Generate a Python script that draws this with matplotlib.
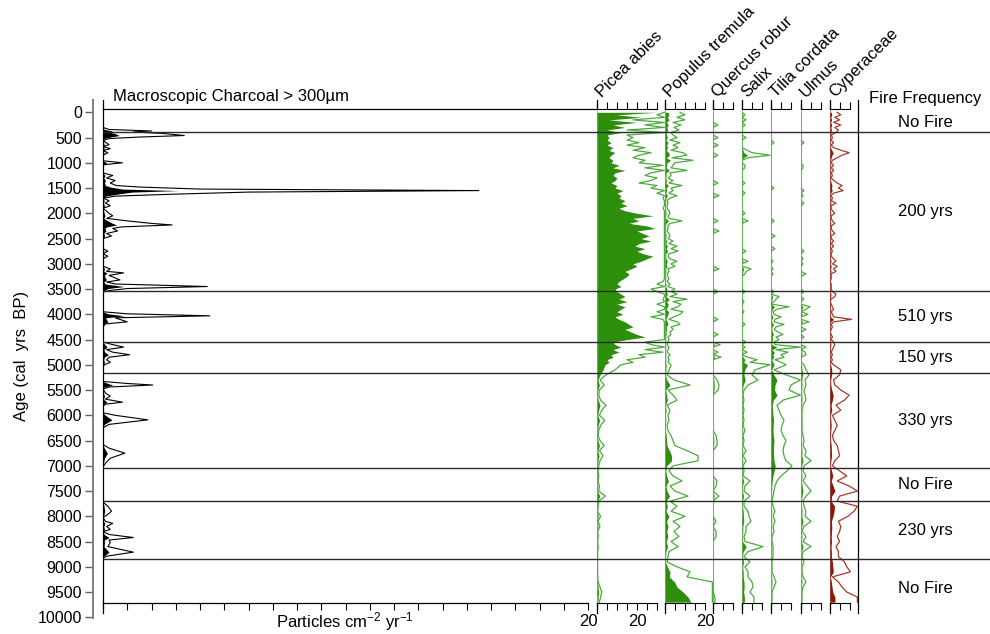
import matplotlib
matplotlib.use('Agg')
import matplotlib.pyplot as plt
import numpy as np

plt.rcParams['font.family'] = ['Liberation Sans', 'DejaVu Sans']
plt.rcParams['mathtext.fontset'] = 'custom'
plt.rcParams['mathtext.rm'] = 'Liberation Sans'
plt.rcParams['mathtext.it'] = 'Liberation Sans:italic'

# ---- data ---------------------------------------------------------------
# pollen sample ages (cal yrs BP)
sample_ages = [
    0, 50, 100, 150, 200, 250, 300, 350, 400, 450, 500, 550, 600, 650, 700, 750, 800, 850, 900, 950,
    1000, 1050, 1100, 1150, 1200, 1250, 1300, 1350, 1400, 1450, 1500, 1550, 1600, 1650, 1700, 1750, 1800, 1850, 1900, 1950,
    2000, 2050, 2100, 2150, 2200, 2250, 2300, 2350, 2400, 2450, 2500, 2550, 2600, 2650, 2700, 2750, 2800, 2850, 2900, 2950,
    3000, 3050, 3100, 3150, 3200, 3250, 3300, 3350, 3400, 3450, 3500, 3550, 3600, 3650, 3700, 3750, 3800, 3850, 3900, 3950,
    4000, 4050, 4100, 4150, 4200, 4250, 4300, 4350, 4400, 4450, 4500, 4550, 4600, 4650, 4700, 4750, 4800, 4850, 4900, 4950,
    5000, 5100, 5200, 5300, 5400, 5500, 5600, 5700, 5800, 5900,
    6000, 6100, 6200, 6300, 6400, 6500, 6600, 6700, 6800, 6900,
    7000, 7100, 7200, 7300, 7400, 7500, 7600, 7700, 7800, 7900,
    8000, 8100, 8200, 8300, 8400, 8500, 8600, 8700, 8800, 8900,
    9000, 9100, 9200, 9300, 9400, 9500, 9600, 9700]

# percentages
picea = [
    30, 10, 22, 6, 20, 8, 14, 5, 12, 5, 6, 5, 7, 5, 8, 6, 9, 7, 6, 8,
    7, 11, 8, 14, 9, 8, 10, 9, 7, 10, 9, 13, 10, 12, 11, 14, 12, 15, 11, 14,
    20, 28, 18, 21, 16, 25, 29, 20, 23, 26, 22, 27, 21, 19, 24, 20, 23, 28, 25, 22,
    18, 20, 17, 14, 16, 15, 13, 11, 10, 12, 9, 10, 12, 14, 11, 15, 10, 14, 12, 10,
    13, 9, 11, 14, 16, 18, 14, 17, 20, 24, 15, 8, 9, 12, 8, 11, 7, 8, 5, 6,
    4, 3, 1.5, 0.5, 1.2, 0.4, 0.3, 0.6, 1.5, 0.8,
    0.4, 1.3, 0.6, 0.3, 0.2, 0.5, 1.2, 0.4, 1.0, 0.5,
    0.3, 0.2, 0.3, 0.2, 0.4, 0.3, 1.4, 0.3, 0.2, 0.1,
    0.6, 0.2, 0.5, 0.1, 0.2, 0.1, 0.2, 0.1, 0.1, 0.1,
    0.1, 0.1, 0.1, 0.2, 0.5, 0.8, 0.6, 0.4]
populus = [
    1.5, 2.0, 1.2, 2.0, 0.8, 1.6, 0.9, 1.4, 0.6, 0.8, 1.2, 0.5, 1.5, 0.8, 1.3, 0.6, 1.8, 2.2, 0.7, 2.8,
    1.0, 0.8, 0.6, 2.2, 0.5, 0.6, 0.3, 0.8, 0.4, 1.7, 0.6, 0.8, 0.4, 1.2, 0.5, 0.2, 0.3, 0.2, 0.2, 0.4,
    0.5, 0.3, 0.4, 1.7, 0.5, 0.3, 0.3, 0.2, 0.4, 0.5, 0.3, 0.8, 0.4, 1.2, 0.6, 1.3, 0.4, 0.3, 0.5, 1.2,
    0.6, 1.0, 0.3, 0.4, 0.2, 0.3, 0.4, 0.2, 0.5, 0.3, 1.0, 0.6, 1.2, 0.5, 2.2, 0.8, 1.6, 1.3, 0.6, 1.8,
    1.5, 0.9, 0.4, 1.2, 1.5, 0.6, 0.8, 0.5, 0.6, 0.3, 0.4, 0.3, 0.2, 0.4, 0.3, 0.2, 0.5, 0.3, 0.4, 0.3,
    0.6, 0.4, 0.2, 0.9, 2.5, 0.3, 0.8, 1.2, 0.2, 0.5,
    0.3, 0.4, 0.2, 0.3, 0.6, 0.8, 1.0, 2.2, 3.3, 3.3,
    0.8, 0.4, 0.8, 1.7, 0.5, 1.0, 2.3, 0.5, 1.2, 0.6,
    2.0, 0.8, 1.5, 0.9, 1.4, 0.6, 1.3, 0.4, 0.3, 0.2,
    1.2, 2.5, 2.2, 4.8, 6.0, 9.0, 11.5, 13.0]
quercus = [
    0, 0, 0, 0, 0, 0.5, 0, 0, 0, 0, 0.5, 0, 0, 0.5, 0, 0, 0, 0.5, 0, 0,
    0, 0, 0, 0, 0, 0, 0, 0, 0.5, 0, 0, 0, 0, 0.6, 0, 0, 0, 0, 0, 0,
    0, 0, 0, 0.5, 0, 0, 0, 0.6, 0, 0, 0, 0, 0, 0, 0, 0, 0, 0, 0, 0,
    0, 0, 0.6, 0, 0, 0, 0, 0, 0, 0, 0, 0.5, 0, 0, 0, 0, 0, 0, 0, 0,
    0, 0, 0.5, 0, 0, 0, 0, 0, 0.5, 0, 0, 0, 0.7, 0, 0, 0.5, 0, 0.8, 0, 0,
    0, 0, 0, 0.4, 0.6, 0.5, 0, 0, 0, 0,
    0, 0, 0, 0, 0.3, 0.4, 0.4, 0, 0, 0,
    0, 0, 0, 0.4, 0.3, 0, 0.6, 0, 0, 0,
    0, 0.3, 0, 0.3, 0.3, 0, 0, 0, 0, 0,
    0, 0, 0, 0, 0, 0, 0.2, 0.2]
salix = [
    0, 0.3, 0, 0.4, 0, 0.3, 0, 0, 0, 0, 0.4, 0, 0, 0, 0, 0.5, 1.0, 2.8, 0.6, 0,
    0, 0.3, 0.3, 0, 0, 0, 0, 0, 0.3, 0, 0, 0, 0.3, 0, 0, 0, 0, 0, 0, 0,
    0.3, 0, 0, 0.6, 0, 0, 0, 0, 0, 0, 0, 0, 0, 0, 0, 0.4, 0, 0, 0, 0.6,
    0, 0, 0.9, 0.4, 0.3, 0, 0, 0, 0, 0, 0, 0.3, 0, 0, 0, 0.2, 0, 0, 0, 0.2,
    0, 0, 0, 0, 0.3, 0, 0, 0, 0, 0, 0, 0.4, 0, 0.3, 0, 0.5, 0, 0.6, 1.5, 0.8,
    2.8, 1.3, 1.0, 1.6, 0.6, 0.2, 0.1, 0.2, 0.1, 0.2,
    0.1, 0.2, 0.1, 0.3, 0.1, 0.2, 0.1, 0.4, 0.1, 0.4,
    0.1, 0.2, 0.1, 0.8, 0.3, 0.2, 0.8, 0.2, 0.2, 0.6,
    0.7, 0.9, 0.4, 0.4, 0.2, 0.3, 2.1, 0.6, 0.2, 0.8,
    0.3, 0.6, 0.6, 1.0, 1.1, 0.8, 1.2, 1.2]
tilia = [
    0, 0, 0, 0, 0, 0, 0, 0, 0, 0, 0, 0, 0.3, 0, 0, 0, 0, 0, 0, 0,
    0, 0, 0, 0, 0, 0, 0, 0, 0, 0, 0.3, 0, 0, 0, 0, 0, 0, 0, 0, 0,
    0, 0, 0, 0.3, 0, 0, 0, 0, 0, 0.4, 0, 0, 0, 0, 0.4, 0, 0, 0, 0, 0.2,
    0, 0, 0.2, 0, 0.2, 0, 0, 0, 0, 0, 0, 0.3, 0, 0.8, 0.5, 0.3, 0, 1.8, 0.6, 0.2,
    0.3, 1.0, 0.4, 0.3, 1.3, 0.5, 0.3, 0.7, 1.2, 0.5, 0.8, 0.3, 0.4, 3.0, 0.5, 1.7, 1.0, 1.3, 0.4, 1.0,
    1.5, 0.3, 1.5, 3.0, 2.0, 1.8, 3.0, 1.2, 0.6, 0.8,
    1.0, 1.3, 1.1, 1.0, 1.2, 1.5, 1.3, 1.2, 1.3, 1.5,
    2.1, 1.6, 1.0, 0.6, 0.4, 0.3, 0.2, 0.1, 0.2, 0.4,
    0.2, 0.4, 0.2, 0.3, 0.1, 0.1, 0.2, 0.2, 0.2, 0.1,
    0.1, 0.1, 0.3, 0.5, 0.3, 0.1, 0.1, 0.1]
ulmus = [
    0, 0, 0, 0, 0, 0, 0, 0, 0, 0, 0, 0, 0.3, 0, 0, 0, 0, 0, 0, 0,
    0, 0.2, 0.2, 0, 0, 0, 0, 0, 0, 0, 0, 0.3, 0, 0.2, 0, 0, 0.3, 0, 0, 0,
    0, 0, 0, 0, 0, 0, 0, 0, 0, 0, 0, 0, 0, 0, 0, 0.3, 0, 0, 0.2, 0,
    0.2, 0, 0, 0, 0.5, 0, 0, 0, 0, 0, 0, 0.3, 0, 0, 0.3, 0, 0, 0.9, 0.5, 0,
    0.7, 0, 0, 0.8, 0, 0, 0.5, 0, 0, 0.3, 0, 0, 0, 0.5, 0, 0.4, 0.5, 0, 0, 0,
    0.3, 0.5, 0.8, 0.4, 0.5, 0.3, 0.4, 0.5, 0.2, 0.1,
    0.1, 0.1, 0.1, 0.1, 0.2, 0.3, 0.2, 0.5, 0.4, 1.0,
    0.3, 0.2, 0.5, 0.2, 0.6, 1.0, 0.5, 0.2, 0.3, 0.5,
    0.4, 1.0, 0.3, 0.1, 0.5, 0.2, 1.0, 0.2, 0.1, 0.3,
    0.1, 0.1, 0.2, 0.5, 0.2, 0.1, 0.1, 0.1]
cyperaceae = [
    0.6, 0.9, 0.4, 0.8, 0.3, 0.9, 0.4, 0.7, 0.5, 0.1, 0.2, 0.1, 0.3, 0.1, 0.3, 0.9, 1.6, 1.0, 0.6, 0.2,
    0.1, 0.3, 0.1, 0.3, 0.1, 0.2, 0.1, 0.3, 0.6, 1.0, 0.7, 1.1, 0.3, 0.1, 0.2, 0.1, 0.5, 0.1, 0.1, 0.2,
    0.4, 0.1, 0.1, 0.2, 0.4, 0.1, 0.1, 0.2, 0.4, 0.1, 0.1, 0.3, 0.1, 0.3, 0.1, 0.2, 0.1, 0.1, 0.3, 0.5,
    0.2, 0.6, 0.3, 0.5, 0.1, 0.1, 0.1, 0.0, 0.1, 0.1, 0.1, 0.2, 0.5, 0.4, 0.1, 0.0, 0.1, 0.2, 0.3, 0.1,
    0.2, 0.3, 1.8, 0.3, 0.1, 0.2, 0.1, 0.0, 0.1, 0.2, 0.1, 0.3, 0.4, 0.3, 0.2, 0.1, 0.2, 0.1, 0.2, 0.1,
    0.3, 0.9, 0.8, 0.3, 0.4, 0.9, 1.6, 1.2, 0.5, 0.9,
    0.2, 0.4, 0.6, 0.4, 0.2, 0.3, 0.6, 0.7, 0.8, 0.4,
    0.2, 0.8, 1.4, 0.6, 1.6, 2.5, 0.8, 0.6, 2.3, 2.0,
    1.5, 0.7, 0.9, 0.8, 0.6, 0.8, 0.5, 0.7, 0.7, 1.2,
    1.4, 1.7, 0.2, 0.7, 1.0, 1.4, 2.5, 2.5]

# macroscopic charcoal > 300 um (particles cm-2 yr-1)
charcoal_age = [
    0, 300, 340, 370, 390, 420, 460, 490, 520, 560, 640, 680, 720, 760, 800, 850,
    960, 1000, 1040, 1200, 1250, 1300, 1350, 1400, 1450, 1480, 1520, 1550, 1580, 1620, 1660, 1700,
    1750, 1800, 1850, 1900, 2000, 2050, 2100, 2150, 2200, 2230, 2270, 2300, 2350, 2400, 2450, 2500,
    2700, 2750, 2800, 2850, 2900, 3050, 3100, 3150, 3180, 3230, 3280, 3320, 3360, 3400, 3450, 3490,
    3530, 3560, 3950, 3990, 4030, 4070, 4110, 4150, 4190, 4250, 4550, 4600, 4650, 4700, 4750, 4800,
    4850, 4900, 4950, 5000, 5050, 5330, 5370, 5400, 5440, 5480, 5560, 5620, 5680, 5740, 5780, 5820,
    5950, 6000, 6090, 6180, 6250, 6580, 6650, 6750, 6850, 6950, 7020, 7720, 7800, 7900, 7980, 8020,
    8100, 8140, 8200, 8260, 8300, 8360, 8420, 8470, 8520, 8600, 8710, 8790, 8830, 9720]
charcoal_val = [
    0, 0, 0.05, 0.4, 0.25, 0.5, 0.67, 0.3, 0.05, 0, 0.05, 0, 0.06, 0, 0.04, 0,
    0, 0.16, 0, 0, 0.08, 0.03, 0.1, 0.06, 0.11, 0.3, 0.8, 3.1, 1.2, 0.6, 0.1, 0,
    0.05, 0.02, 0.06, 0, 0.05, 0.08, 0.03, 0.2, 0.4, 0.57, 0.15, 0.08, 0.12, 0.03, 0.07, 0,
    0, 0.04, 0, 0.04, 0, 0, 0.06, 0.03, 0.17, 0.05, 0.1, 0.14, 0.03, 0.1, 0.86, 0.2,
    0.05, 0, 0, 0.2, 0.88, 0.1, 0.15, 0.2, 0.02, 0, 0, 0.08, 0.17, 0.03, 0.08, 0.22,
    0.05, 0.03, 0.06, 0.01, 0, 0, 0.2, 0.41, 0.05, 0, 0.02, 0.06, 0.02, 0.16, 0.02, 0,
    0, 0.1, 0.37, 0.05, 0, 0, 0.05, 0.18, 0.06, 0.02, 0, 0, 0.04, 0.07, 0.03, 0,
    0.02, 0.08, 0.03, 0.06, 0, 0.05, 0.25, 0.05, 0.06, 0.04, 0.25, 0.03, 0, 0]

age_ticks = [0, 500, 1000, 1500, 2000, 2500, 3000, 3500, 4000, 4500, 5000,
             5500, 6000, 6500, 7000, 7500, 8000, 8500, 9000, 9500, 10000]

# fire frequency zones
zone_bounds = [0, 390, 3540, 4550, 5160, 7045, 7700, 8850, 10000]
zone_labels = ['No Fire', '200 yrs', '510 yrs', '150 yrs', '330 yrs', 'No Fire', '230 yrs', 'No Fire']

# ---- layout helpers (pixel based) ---------------------------------------
W, H = 990, 634
AGE0_PX = 112.3      # pixel row of age 0
PX_PER_YR = 0.0505   # pixels per year
TOP_PX, BOT_PX = 109, 603
PX_PER_PCT = 2.0

fig = plt.figure(figsize=(W / 100, H / 100), dpi=100)


def px_axes(x0, x1, y0, y1):
    return fig.add_axes([x0 / W, 1 - y1 / H, (x1 - x0) / W, (y1 - y0) / H])


def age_lim(y_top, y_bot):
    return ((y_bot - AGE0_PX) / PX_PER_YR, (y_top - AGE0_PX) / PX_PER_YR)


FS = 12
ages = np.array(sample_ages)
panel_h = BOT_PX - TOP_PX

# ---- age axis -------------------------------------------------------------
ax_age = px_axes(93, 103, 100, 618)
ax_age.set_ylim(*age_lim(100, 618))
ax_age.patch.set_alpha(0)
for s in ['top', 'right', 'bottom']:
    ax_age.spines[s].set_visible(False)
ax_age.spines['left'].set_color('#808080')
ax_age.spines['left'].set_linewidth(1.4)
ax_age.set_xticks([])
ax_age.set_yticks(age_ticks)
ax_age.tick_params(axis='y', direction='out', length=6, width=1, color='#606060',
                   labelsize=11.5, pad=2)
fig.text(22 / W, 1 - 356 / H, 'Age (cal  yrs  BP)', rotation=90, ha='center', va='center', fontsize=FS)

# ---- charcoal panel ------------------------------------------------------
ax_c = px_axes(103, 597, TOP_PX, BOT_PX)
c_scale = 24.25  # px per particle
ax_c.set_xlim(0, (597 - 103) / c_scale)
ax_c.set_ylim(*age_lim(TOP_PX, BOT_PX))
ax_c.patch.set_alpha(0)
c_age = np.array(charcoal_age)
c_val = np.array(charcoal_val)
ax_c.fill_betweenx(c_age, 0, c_val, color='black', lw=0)
ax_c.plot(c_val * 5, c_age, color='black', lw=0.8)
ax_c.spines['right'].set_visible(False)
ax_c.spines['bottom'].set_bounds(0, 20)
for s in ['left', 'top', 'bottom']:
    ax_c.spines[s].set_linewidth(0.9)
ax_c.set_yticks([])
ax_c.set_xticks(range(0, 21))
ax_c.set_xticklabels(['20' if t == 20 else '' for t in range(0, 21)])
ax_c.tick_params(axis='x', direction='out', length=5, width=0.8, labelsize=FS, pad=3)
ax_c.plot([0, 0], [1, 1 + 9 / panel_h], transform=ax_c.transAxes, clip_on=False, color='black', lw=0.9)
ax_c.plot([0, 0], [0, -10 / panel_h], transform=ax_c.transAxes, clip_on=False, color='black', lw=0.9)
fig.text(113 / W, 1 - 97 / H, 'Macroscopic Charcoal > 300µm', ha='left', va='center', fontsize=FS)
fig.text(345 / W, 1 - 622 / H, 'Particles cm$^{-2}$ yr$^{-1}$', ha='center', va='center', fontsize=FS)

# ---- pollen panels ---------------------------------------------------------
GREEN = '#2e8f0c'
GREEN_LINE = '#4caa3c'
GREEN_BASE = '#96d096'
RED = '#8a1a06'
RED_LINE = '#a63a28'
RED_BASE = '#b06a6a'

# name, values, left px, right px, tick end (%), exaggeration, colours, labelled tick
panels = [
    ('Picea abies', picea, 597, 665, 30, 3, GREEN, GREEN_LINE, GREEN_BASE, 20),
    ('Populus tremula', populus, 665, 713, 20, 5, GREEN, GREEN_LINE, GREEN_BASE, 20),
    ('Quercus robur', quercus, 713, 742, 10, 5, GREEN, GREEN_LINE, GREEN_BASE, None),
    ('Salix', salix, 742, 771, 10, 5, GREEN, GREEN_LINE, GREEN_BASE, None),
    ('Tilia cordata', tilia, 771, 801, 10, 5, GREEN, GREEN_LINE, GREEN_BASE, None),
    ('Ulmus', ulmus, 801, 830, 10, 5, GREEN, GREEN_LINE, GREEN_BASE, None),
    ('Cyperaceae', cyperaceae, 830, 858, 10, 6, RED, RED_LINE, RED_BASE, None),
]

for name, vals, x0, x1, tick_end, exag, fc, lc, bc, lab in panels:
    ax = px_axes(x0, x1, TOP_PX, BOT_PX)
    xmax = (x1 - x0) / PX_PER_PCT
    ax.set_xlim(0, xmax)
    ax.set_ylim(*age_lim(TOP_PX, BOT_PX))
    ax.patch.set_alpha(0)
    v = np.array(vals, dtype=float)
    ax.plot([0, 0], [ages[0], ages[-1]], color=bc, lw=1.6, zorder=1)
    ax.fill_betweenx(ages, 0, v, color=fc, lw=0, zorder=2)
    ax.plot(np.minimum(v * exag, xmax - 0.3), ages, color=lc, lw=0.9, zorder=3)
    ax.spines['left'].set_visible(False)
    ax.spines['right'].set_visible(False)
    ax.spines['top'].set_bounds(0, tick_end)
    ax.spines['bottom'].set_bounds(0, tick_end)
    ax.spines['top'].set_linewidth(0.8)
    ax.spines['bottom'].set_linewidth(0.8)
    ticks = list(range(0, tick_end + 1, 5))
    ax.set_xticks(ticks)
    ax.set_xticklabels(['20' if t == lab else '' for t in ticks])
    ax.set_yticks([])
    ax.tick_params(axis='x', direction='out', length=5, width=0.8, top=True, bottom=True,
                   labelsize=FS, pad=3)
    ax.plot([0, 0], [1, 1 + 9 / panel_h], transform=ax.transAxes, clip_on=False, color='black', lw=0.9)
    ax.plot([0, 0], [0, -10 / panel_h], transform=ax.transAxes, clip_on=False, color='black', lw=0.9)
    fig.text((x0 + 7) / W, 1 - 100 / H, name, rotation=45, rotation_mode='anchor',
             ha='left', va='bottom', fontsize=FS)

# ---- fire frequency zones (overlay) -----------------------------------------
ax_z = px_axes(103, 990, TOP_PX, BOT_PX)
ax_z.set_xlim(0, 1)
ax_z.set_ylim(*age_lim(TOP_PX, BOT_PX))
ax_z.axis('off')
for b in zone_bounds[1:-1]:
    ax_z.axhline(b, color='#2a2a2a', lw=1.0)
fx = (858 - 103) / (990 - 103)
ax_z.plot([fx, fx], [1 + 9 / panel_h, -10 / panel_h], transform=ax_z.transAxes,
          clip_on=False, color='black', lw=0.9)
lx = (925 - 103) / (990 - 103)
for i, lbl in enumerate(zone_labels):
    mid = (zone_bounds[i] + zone_bounds[i + 1]) / 2
    ax_z.text(lx, mid, lbl, ha='center', va='center', fontsize=FS)
fig.text(925 / W, 1 - 98 / H, 'Fire Frequency', ha='center', va='center', fontsize=FS)

fig.savefig('out.png', dpi=100)
